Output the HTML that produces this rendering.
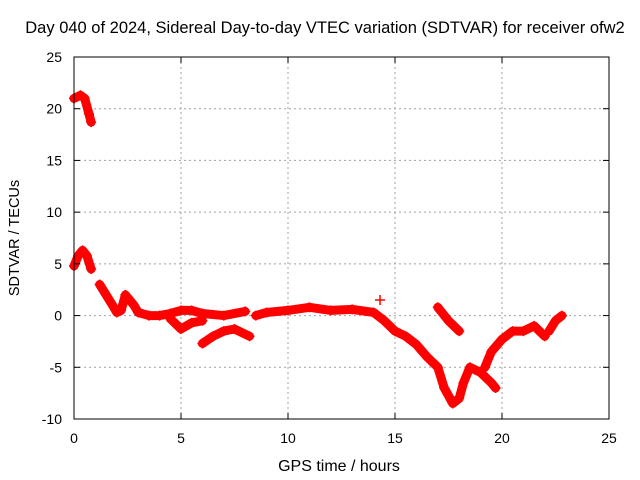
<!DOCTYPE html>
<html><head><meta charset="utf-8"><style>
body{margin:0;background:#fff}
svg{display:block;font-family:"Liberation Sans",sans-serif}
</style></head><body>
<svg id="c" width="640" height="480">
<text x="325" y="33" font-size="16.5" text-anchor="middle">Day 040 of 2024, Sidereal Day-to-day VTEC variation (SDTVAR) for receiver ofw2</text>
<text x="339" y="471" font-size="16" text-anchor="middle">GPS time / hours</text>
<text transform="translate(19,238) rotate(-90)" font-size="14.5" text-anchor="middle">SDTVAR / TECUs</text>
<g id="grid"></g><g id="marks"></g><g id="ticks"></g>
<rect x="74" y="57" width="535" height="362" fill="none" stroke="#000" stroke-width="1"/>
</svg>
<script>
const xTicks=[0,5,10,15,20,25];
const yTicks=[-10,-5,0,5,10,15,20,25];
const trackA=[[0,21],[0.3,21.3],[0.5,21],[0.7,19.5],[0.8,18.7]];
const trackB=[[0,4.8],[0.2,5.8],[0.4,6.3],[0.6,5.8],[0.8,4.5]];
const trackC=[[1.2,3],[1.5,2],[1.8,1],[2.0,0.3],[2.2,0.5],[2.4,2],[2.8,1],[3.0,0.3],[3.5,0],[4,0],[4.5,0.2],[5,0.5],[5.5,0.5],[6,0.2],[7,0],[8,0.4]];
const trackD=[[4.5,-0.3],[5,-1.3],[5.5,-0.7],[6,-0.5]];
const trackE=[[6,-2.7],[6.5,-2],[7,-1.5],[7.5,-1.3],[8.2,-2]];
const trackF=[[8.5,0],[9,0.3],[10,0.5],[11,0.8],[12,0.5],[13,0.6],[14,0.3],[14.5,-0.5],[15,-1.5],[15.5,-2],[16,-2.8],[16.5,-4],[17,-5],[17.3,-7],[17.7,-8.5],[18,-8],[18.2,-6.5],[18.5,-5],[19,-5.5],[19.5,-6.5],[19.7,-7]];
const trackG=[[17,0.8],[17.5,-0.5],[18,-1.5]];
const trackH=[[19.2,-5],[19.5,-3.5],[20,-2.3],[20.5,-1.5],[21,-1.5],[21.5,-1],[22,-2]];
const trackI=[[22.2,-1.5],[22.5,-0.5],[22.8,0]];
const trackJ=[[14.3,1.5]];
const tracks=[trackA,trackB,trackC,trackD,trackE,trackF,trackG,trackH,trackI,trackJ];
const X=v=>74+v*535/25, Y=v=>419-(v+10)*362/35;
const NS="http://www.w3.org/2000/svg";
function mk(t,a,p){const e=document.createElementNS(NS,t);for(const k in a)e.setAttribute(k,a[k]);p.appendChild(e);return e;}
const grid=document.getElementById('grid'),ticks=document.getElementById('ticks'),marks=document.getElementById('marks');
xTicks.forEach(v=>{
 if(v>0&&v<25){const g=mk('line',{x1:X(v),x2:X(v),y1:57,y2:419,stroke:'#a0a0a0','stroke-dasharray':'2,3'},grid);
 
 }
 mk('line',{x1:X(v),x2:X(v),y1:419,y2:413,stroke:'#000'},ticks);
 mk('line',{x1:X(v),x2:X(v),y1:57,y2:63,stroke:'#000'},ticks);
 const t=mk('text',{x:X(v),y:443,'font-size':14,'text-anchor':'middle'},ticks);t.textContent=v;
 
 
});
yTicks.forEach(v=>{
 if(v>-10&&v<25){const g=mk('line',{x1:74,x2:609,y1:Y(v),y2:Y(v),stroke:'#a0a0a0','stroke-dasharray':'2,3'},grid);
 
 }
 mk('line',{x1:74,x2:80,y1:Y(v),y2:Y(v),stroke:'#000'},ticks);
 mk('line',{x1:609,x2:603,y1:Y(v),y2:Y(v),stroke:'#000'},ticks);
 const t=mk('text',{x:62,y:Y(v)+5,'font-size':14,'text-anchor':'end'},ticks);t.textContent=v;
 
 
});
tracks.forEach(tr=>{
 const pts=tr.map(p=>X(p[0])+','+Y(p[1])).join(' ');
 const pl=mk('polyline',{points:pts,fill:'none',stroke:'#f00','stroke-width':9,'stroke-linejoin':'round','stroke-linecap':'round'},marks);
 
 
 tr.forEach(p=>{
  const x=X(p[0]),y=Y(p[1]);
  const m=mk('path',{d:`M${x-5},${y}H${x+5}M${x},${y-5}V${y+5}`,stroke:'#f00','stroke-width':1.5},marks);
  
  
 });
});
</script>
</body></html>
